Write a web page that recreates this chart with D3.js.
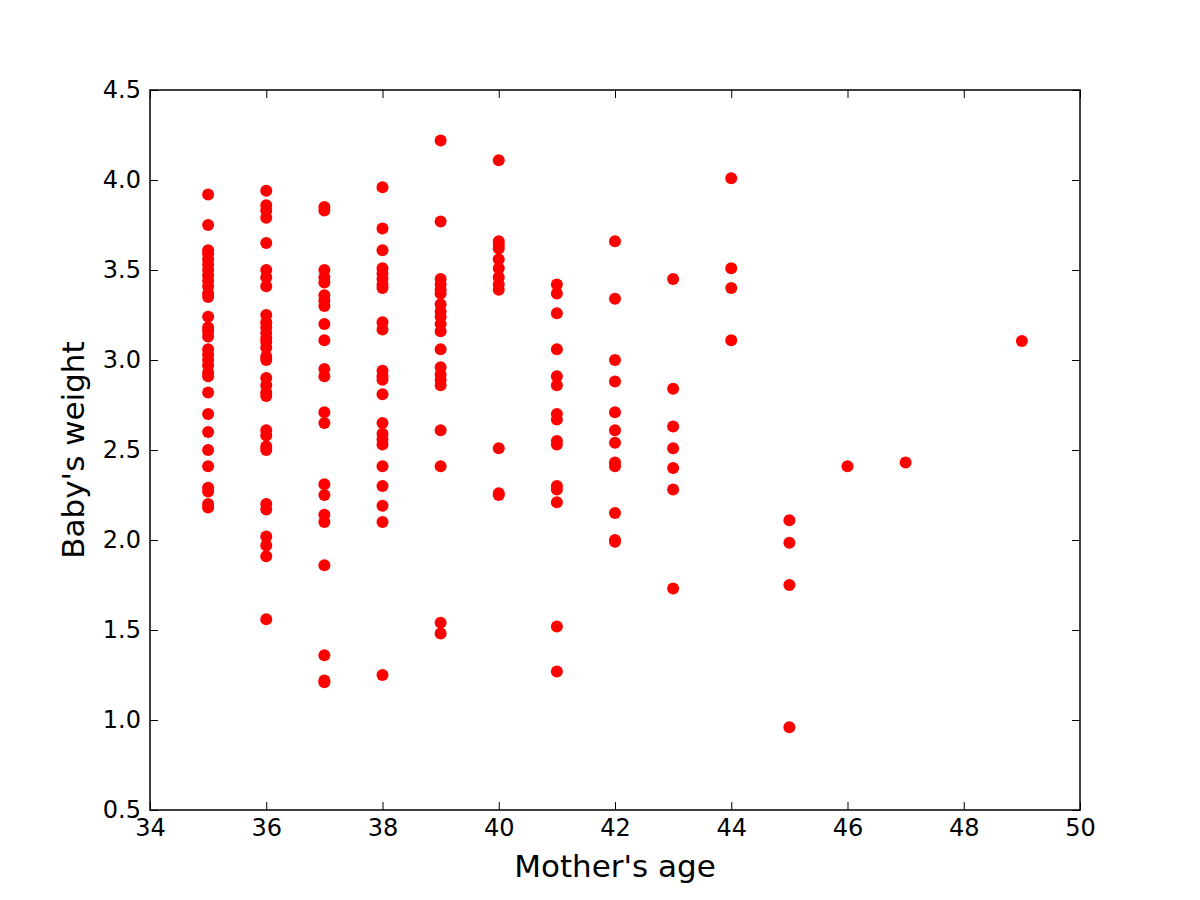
<!DOCTYPE html>
<html>
<head>
<meta charset="utf-8">
<script src="https://cdn.jsdelivr.net/npm/d3@7"></script>
<style>
  html, body { margin: 0; padding: 0; background: #fff; }
  svg { display: block; font-family: "DejaVu Sans", sans-serif; }
</style>
</head>
<body>
<svg id="chart" width="1200" height="900"></svg>
<script>
// Data: mother's age -> baby's weights
const ages = [35, 36, 37, 38, 39, 40, 41, 42, 43, 44, 45, 46, 47, 49];
const weights35 = [3.92, 3.75, 3.61, 3.59, 3.56, 3.53, 3.50, 3.47, 3.44, 3.41, 3.37, 3.35, 3.24, 3.18, 3.16, 3.13, 3.06, 3.03, 3.00, 2.97, 2.93, 2.91, 2.82, 2.70, 2.60, 2.50, 2.41, 2.29, 2.27, 2.20, 2.18];
const weights36 = [3.94, 3.86, 3.83, 3.79, 3.65, 3.50, 3.46, 3.41, 3.25, 3.21, 3.18, 3.15, 3.12, 3.10, 3.07, 3.02, 3.00, 2.90, 2.86, 2.82, 2.80, 2.61, 2.58, 2.52, 2.50, 2.20, 2.17, 2.02, 1.97, 1.91, 1.56];
const weights37 = [3.85, 3.83, 3.50, 3.46, 3.43, 3.36, 3.33, 3.30, 3.20, 3.11, 2.95, 2.91, 2.71, 2.65, 2.31, 2.25, 2.14, 2.10, 1.86, 1.36, 1.22, 1.21];
const weights38 = [3.96, 3.73, 3.61, 3.51, 3.48, 3.45, 3.42, 3.40, 3.21, 3.17, 2.94, 2.91, 2.89, 2.81, 2.65, 2.59, 2.56, 2.53, 2.41, 2.30, 2.19, 2.10, 1.25];
const weights39 = [4.22, 3.77, 3.45, 3.42, 3.39, 3.37, 3.31, 3.27, 3.24, 3.20, 3.16, 3.06, 2.96, 2.92, 2.89, 2.86, 2.61, 2.41, 1.54, 1.48];
const weights40 = [4.11, 3.66, 3.64, 3.62, 3.56, 3.51, 3.46, 3.42, 3.39, 2.51, 2.26, 2.25];
const weights41 = [3.42, 3.37, 3.26, 3.06, 2.91, 2.86, 2.70, 2.67, 2.55, 2.53, 2.30, 2.28, 2.21, 1.52, 1.27];
const weights42 = [3.66, 3.34, 3.00, 2.88, 2.71, 2.61, 2.54, 2.43, 2.41, 2.15, 2.00, 1.99];
const weights43 = [3.45, 2.84, 2.63, 2.51, 2.40, 2.28, 1.73];
const weights44 = [4.01, 3.51, 3.40, 3.11];
const weights45 = [2.11, 1.985, 1.75, 0.96];
const weights46 = [2.41];
const weights47 = [2.43];
const weights49 = [3.105];
const weightsByAge = [weights35, weights36, weights37, weights38, weights39, weights40, weights41, weights42, weights43, weights44, weights45, weights46, weights47, weights49];

const xTicks = [34, 36, 38, 40, 42, 44, 46, 48, 50];
const yTicks = [0.5, 1.0, 1.5, 2.0, 2.5, 3.0, 3.5, 4.0, 4.5];
const xLabel = "Mother's age";
const yLabel = "Baby's weight";

(function () {
  const points = [];
  ages.forEach((a, i) => weightsByAge[i].forEach(w => points.push({ age: a, weight: w })));

  const mL = 150, mR = 1080, mT = 90, mB = 810;
  const svg = d3.select("#chart");

  const x = d3.scaleLinear().domain([34, 50]).range([mL, mR]);
  const y = d3.scaleLinear().domain([0.5, 4.5]).range([mB, mT]);

  // points
  svg.append("g").selectAll("circle").data(points).join("circle")
    .attr("cx", d => x(d.age))
    .attr("cy", d => y(d.weight))
    .attr("r", 6)
    .attr("fill", "#ff0000");

  const tickLen = 8;
  function styleAxis(g) {
    g.select(".domain").remove();
    g.selectAll(".tick line").attr("stroke", "#000").attr("stroke-width", 1);
    g.selectAll(".tick text").attr("fill", "#000").attr("font-size", 24)
      .attr("font-family", "DejaVu Sans, sans-serif");
  }

  // bottom axis (inward ticks)
  svg.append("g").attr("transform", `translate(0,${mB})`)
    .call(d3.axisBottom(x).tickValues(xTicks).tickFormat(d3.format("d")).tickSizeInner(-tickLen).tickSizeOuter(0))
    .call(styleAxis)
    .selectAll(".tick text").attr("dy", "0.71em").attr("y", 9);

  // top axis
  svg.append("g").attr("transform", `translate(0,${mT})`)
    .call(d3.axisTop(x).tickValues(xTicks).tickSizeInner(-tickLen).tickSizeOuter(0).tickFormat(""))
    .call(styleAxis);

  // left axis
  svg.append("g").attr("transform", `translate(${mL},0)`)
    .call(d3.axisLeft(y).tickValues(yTicks).tickFormat(d3.format(".1f")).tickSizeInner(-tickLen).tickSizeOuter(0))
    .call(styleAxis)
    .selectAll(".tick text").attr("x", -9);

  // right axis
  svg.append("g").attr("transform", `translate(${mR},0)`)
    .call(d3.axisRight(y).tickValues(yTicks).tickSizeInner(-tickLen).tickSizeOuter(0).tickFormat(""))
    .call(styleAxis);

  // frame
  svg.append("rect")
    .attr("x", mL).attr("y", mT)
    .attr("width", mR - mL).attr("height", mB - mT)
    .attr("fill", "none").attr("stroke", "#000").attr("stroke-width", 1.5);

  // axis labels
  svg.append("text")
    .attr("x", (mL + mR) / 2).attr("y", 877)
    .attr("text-anchor", "middle")
    .attr("font-size", 31).attr("fill", "#000")
    .text(xLabel);

  svg.append("text")
    .attr("transform", `translate(84,${(mT + mB) / 2}) rotate(-90)`)
    .attr("text-anchor", "middle")
    .attr("font-size", 31).attr("fill", "#000")
    .text(yLabel);
})();
</script>
</body>
</html>
